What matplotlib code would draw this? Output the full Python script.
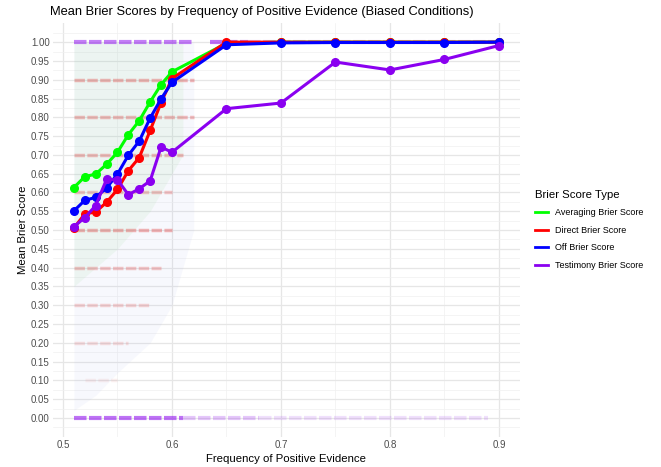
import matplotlib.pyplot as plt
from matplotlib.lines import Line2D

plt.rcParams['font.family'] = ['Liberation Sans', 'DejaVu Sans']

# mean scores per frequency of positive evidence
freq = [0.51, 0.52, 0.53, 0.54, 0.55, 0.56, 0.57, 0.58, 0.59, 0.60,
        0.65, 0.70, 0.75, 0.80, 0.85, 0.90]
averaging = [0.613, 0.642, 0.649, 0.675, 0.707, 0.754, 0.791, 0.841, 0.887, 0.921,
             0.997, 1.0, 1.0, 1.0, 1.0, 1.0]
direct = [0.505, 0.543, 0.548, 0.574, 0.608, 0.658, 0.693, 0.765, 0.839, 0.903,
          1.0, 1.0, 1.0, 1.0, 1.0, 1.0]
off = [0.551, 0.579, 0.587, 0.612, 0.649, 0.699, 0.737, 0.798, 0.849, 0.893,
       0.993, 0.998, 0.999, 0.999, 0.999, 1.0]
testimony = [0.509, 0.533, 0.565, 0.635, 0.634, 0.594, 0.610, 0.631, 0.721, 0.707,
             0.823, 0.838, 0.947, 0.926, 0.954, 0.991]

series = [("Averaging Brier Score", averaging, "#00FF00"),
          ("Direct Brier Score", direct, "#FF0000"),
          ("Off Brier Score", off, "#0000FF"),
          ("Testimony Brier Score", testimony, "#8A00F0")]

# background: raw scores cluster on discrete levels (level, x_start, x_end, alpha)
red_bands = [(0.9, 0.51, 0.62, 0.3), (0.8, 0.51, 0.62, 0.28), (0.7, 0.51, 0.61, 0.28),
             (0.6, 0.51, 0.60, 0.24), (0.5, 0.51, 0.60, 0.32), (0.4, 0.51, 0.59, 0.24),
             (0.3, 0.51, 0.58, 0.18), (0.2, 0.51, 0.56, 0.13), (0.1, 0.52, 0.55, 0.06)]
purple_bands = [(1.0, 0.51, 0.62, 0.5), (1.0, 0.635, 0.67, 0.55), (1.0, 0.67, 0.9, 0.25),
                (0.0, 0.51, 0.61, 0.55), (0.0, 0.61, 0.68, 0.22), (0.0, 0.68, 0.89, 0.12)]
# diffuse cloud of individual scores (x, lower, upper), sparse and dense parts
cloud_x = [0.51, 0.53, 0.55, 0.58, 0.60, 0.62]
cloud_lo = [0.02, 0.06, 0.12, 0.2, 0.3, 0.5]
cloud_hi = [1.0, 1.0, 1.0, 1.0, 1.0, 1.0]
dense_x = [0.51, 0.55, 0.58, 0.61]
dense_lo = [0.35, 0.45, 0.55, 0.7]
dense_hi = [1.0, 1.0, 1.0, 1.0]

fig = plt.figure(figsize=(6.61, 4.67), dpi=100)
ax = fig.add_axes([0.0796, 0.0647, 0.7074, 0.8853])

ax.fill_between(cloud_x, cloud_lo, cloud_hi, color="#9aa6e8", alpha=0.07, lw=0, zorder=1)
ax.fill_between(dense_x, dense_lo, dense_hi, color="#8fd98f", alpha=0.10, lw=0, zorder=1)
for lvl, x0, x1, a in red_bands:
    ax.hlines(lvl, x0, x1, color="#e02020", alpha=a, lw=2.5,
              linestyle=(0, (3, 0.7)), zorder=2)
for lvl, x0, x1, a in purple_bands:
    ax.hlines(lvl, x0, x1, color="#8A00F0", alpha=a, lw=3.0,
              linestyle=(0, (3, 0.6)), zorder=2)

for name, vals, col in series:
    ax.plot(freq, vals, color=col, lw=2.2, marker='o', markersize=5.5, zorder=3)

# axes / theme_minimal look
ax.set_xlim(0.4905, 0.9195)
ax.set_ylim(-0.05, 1.05)
ax.set_xticks([0.5, 0.6, 0.7, 0.8, 0.9])
ax.set_xticklabels(["0.5", "0.6", "0.7", "0.8", "0.9"])
ax.set_xticks([0.55, 0.65, 0.75, 0.85], minor=True)
yt = [i / 20 for i in range(21)]
ax.set_yticks(yt)
ax.set_yticklabels([f"{v:.2f}" for v in yt])
ax.set_yticks([i / 40 for i in range(-1, 42, 2)], minor=True)
ax.grid(which='major', color='#e6e6e6', lw=0.9)
ax.grid(which='minor', color='#f0f0f0', lw=0.5)
ax.set_axisbelow(True)
for s in ax.spines.values():
    s.set_visible(False)
ax.tick_params(which='both', length=0, labelsize=7, labelcolor='#4d4d4d', pad=2)

ax.set_xlabel("Frequency of Positive Evidence", fontsize=8.2, labelpad=3)
ax.set_ylabel("Mean Brier Score", fontsize=8.2, labelpad=2)
fig.text(0.0756, 0.975, "Mean Brier Scores by Frequency of Positive Evidence (Biased Conditions)",
         fontsize=9.3, va='center', ha='left')

handles = [Line2D([0], [0], color=c, lw=2) for _, _, c in series]
leg = fig.legend(handles, [n for n, _, _ in series], title="Brier Score Type",
                 loc='center left', bbox_to_anchor=(0.797, 0.508), frameon=False,
                 fontsize=6.5, title_fontsize=8.2, handlelength=1.4, labelspacing=0.95)
leg._legend_box.align = "left"

fig.savefig("out.png", dpi=100)
